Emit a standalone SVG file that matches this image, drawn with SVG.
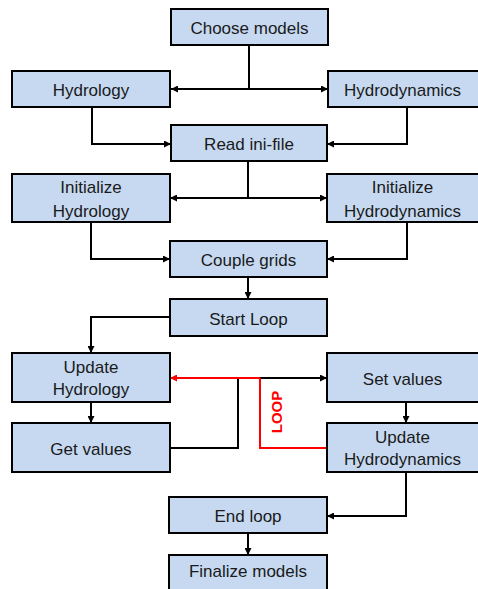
<svg xmlns="http://www.w3.org/2000/svg" width="478" height="589" viewBox="0 0 478 589">
<style>
.box rect{fill:#c6d9f1;stroke:#000;stroke-width:2}
.box text{font-family:"Liberation Sans",Arial,sans-serif;font-size:17px;fill:#1a1a1a;text-anchor:middle}
.c{fill:none;stroke:#000;stroke-width:2}
.r{fill:none;stroke:#ff0000;stroke-width:2}
.lbl{font-family:"Liberation Sans",Arial,sans-serif;font-size:15px;font-weight:bold;fill:#ff0000;text-anchor:middle}
</style>
<defs>
<marker id="ah" markerUnits="userSpaceOnUse" markerWidth="7" markerHeight="7" refX="7" refY="3.5" orient="auto">
<path d="M0,0 L7,3.5 L0,7 z" fill="#000"/>
</marker>
<marker id="ahr" markerUnits="userSpaceOnUse" markerWidth="7" markerHeight="7" refX="7" refY="3.5" orient="auto">
<path d="M0,0 L7,3.5 L0,7 z" fill="#ff0000"/>
</marker>
</defs>
<rect width="478" height="589" fill="#fff"/>
<g id="connectors">
<path class="c" d="M249,45 V89"/>
<path class="c" d="M249,89 H171" marker-end="url(#ah)"/>
<path class="c" d="M249,89 H328" marker-end="url(#ah)"/>
<path class="c" d="M92,107 V144 H171" marker-end="url(#ah)"/>
<path class="c" d="M407,107 V144 H327" marker-end="url(#ah)"/>
<path class="c" d="M248,161 V198"/>
<path class="c" d="M248,198 H170" marker-end="url(#ah)"/>
<path class="c" d="M248,198 H327" marker-end="url(#ah)"/>
<path class="c" d="M91,222 V259 H170" marker-end="url(#ah)"/>
<path class="c" d="M407,222 V259 H327" marker-end="url(#ah)"/>
<path class="c" d="M248,277 V299" marker-end="url(#ah)"/>
<path class="c" d="M170,317 H91 V353" marker-end="url(#ah)"/>
<path class="c" d="M91,402 V423" marker-end="url(#ah)"/>
<path class="c" d="M260,378 H327" marker-end="url(#ah)"/>
<path class="c" d="M238,378 V448 H170"/>
<path class="r" d="M260,378 H170" marker-end="url(#ahr)"/>
<path class="r" d="M260,378 V448 H327"/>
<path class="c" d="M406,402 V423" marker-end="url(#ah)"/>
<path class="c" d="M406,472 V516 H327" marker-end="url(#ah)"/>
<path class="c" d="M248,533 V555" marker-end="url(#ah)"/>
<text class="lbl" transform="translate(282,412) rotate(-90)">LOOP</text>
</g>
<g id="choose" class="box"><rect x="171" y="9" width="157" height="36"/><text x="249.5" y="34">Choose models</text></g>
<g id="hydrology" class="box"><rect x="12" y="71" width="158" height="36"/><text x="91" y="96">Hydrology</text></g>
<g id="hydrodynamics" class="box"><rect x="328" y="71" width="160" height="36"/><text x="402.5" y="96">Hydrodynamics</text></g>
<g id="readini" class="box"><rect x="171" y="125" width="156" height="36"/><text x="249" y="150">Read ini-file</text></g>
<g id="inithydrology" class="box"><rect x="12" y="174" width="158" height="48"/><text x="91" y="193">Initialize</text><text x="91" y="217">Hydrology</text></g>
<g id="inithydrodynamics" class="box"><rect x="327" y="174" width="160" height="48"/><text x="402.5" y="193">Initialize</text><text x="402.5" y="217">Hydrodynamics</text></g>
<g id="couple" class="box"><rect x="170" y="241" width="157" height="36"/><text x="248.5" y="266">Couple grids</text></g>
<g id="startloop" class="box"><rect x="170" y="299" width="157" height="37"/><text x="248.5" y="324.5">Start Loop</text></g>
<g id="updatehydrology" class="box"><rect x="12" y="353" width="158" height="49"/><text x="91" y="373">Update</text><text x="91" y="395">Hydrology</text></g>
<g id="setvalues" class="box"><rect x="327" y="353" width="160" height="49"/><text x="402.5" y="384.5">Set values</text></g>
<g id="getvalues" class="box"><rect x="12" y="423" width="158" height="49"/><text x="91" y="455">Get values</text></g>
<g id="updatehydrodynamics" class="box"><rect x="327" y="423" width="160" height="49"/><text x="402.5" y="443">Update</text><text x="402.5" y="465">Hydrodynamics</text></g>
<g id="endloop" class="box"><rect x="169" y="497" width="158" height="36"/><text x="248" y="522">End loop</text></g>
<g id="finalize" class="box"><rect x="169" y="555" width="158" height="40"/><text x="248" y="577">Finalize models</text></g>
</svg>
